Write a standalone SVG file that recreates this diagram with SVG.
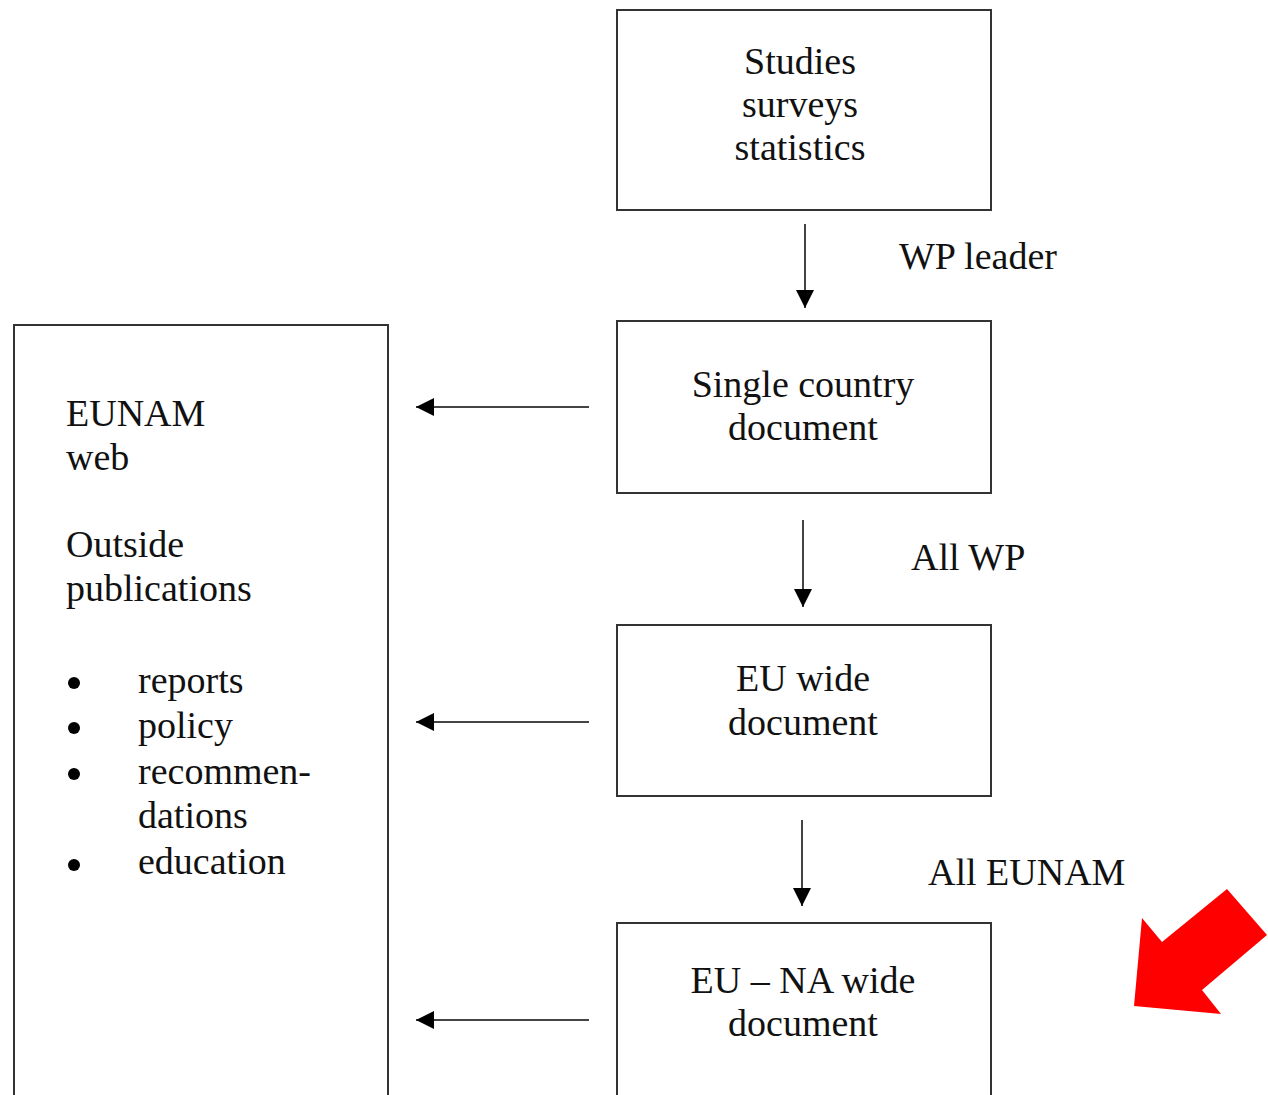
<svg xmlns="http://www.w3.org/2000/svg" width="1268" height="1095" viewBox="0 0 1268 1095">
<style>
.box{fill:#fff;stroke:#333;stroke-width:2}
.t{font-family:"Liberation Serif","Times New Roman",serif;font-size:38px;fill:#111}
.c{text-anchor:middle}
.ln{stroke:#444;stroke-width:2;fill:none}
</style>
<defs>
<marker id="ah2" viewBox="0 0 10 10" refX="10" refY="5" markerWidth="9" markerHeight="9" orient="auto">
<path d="M0,0 L10,5 L0,10 z" fill="#000"/>
</marker>
</defs>
<rect width="1268" height="1095" fill="#fff"/>
<g id="studies">
<rect class="box" x="617" y="10" width="374" height="200"/>
<text class="t c" x="800" y="74">Studies</text>
<text class="t c" x="800" y="117">surveys</text>
<text class="t c" x="800" y="160">statistics</text>
</g>
<g id="single">
<rect class="box" x="617" y="321" width="374" height="172"/>
<text class="t c" x="803" y="397">Single country</text>
<text class="t c" x="803" y="440">document</text>
</g>
<g id="euwide">
<rect class="box" x="617" y="625" width="374" height="171"/>
<text class="t c" x="803" y="691">EU wide</text>
<text class="t c" x="803" y="735">document</text>
</g>
<g id="eunawide">
<rect class="box" x="617" y="923" width="374" height="180"/>
<text class="t c" x="803" y="993">EU – NA wide</text>
<text class="t c" x="803" y="1036">document</text>
</g>
<g id="web">
<rect class="box" x="14" y="325" width="374" height="780"/>
<text class="t" x="66" y="426">EUNAM</text>
<text class="t" x="66" y="470">web</text>
<text class="t" x="66" y="557">Outside</text>
<text class="t" x="66" y="601">publications</text>
<circle cx="74" cy="683" r="6" fill="#000"/>
<circle cx="74" cy="728" r="6" fill="#000"/>
<circle cx="74" cy="774" r="6" fill="#000"/>
<circle cx="74" cy="865" r="6" fill="#000"/>
<text class="t" x="138" y="693">reports</text>
<text class="t" x="138" y="738">policy</text>
<text class="t" x="138" y="784">recommen-</text>
<text class="t" x="138" y="828">dations</text>
<text class="t" x="138" y="874">education</text>
</g>
<g id="connectors">
<line class="ln" x1="805" y1="224" x2="805" y2="308" marker-end="url(#ah2)"/>
<line class="ln" x1="803" y1="520" x2="803" y2="607" marker-end="url(#ah2)"/>
<line class="ln" x1="802" y1="820" x2="802" y2="906" marker-end="url(#ah2)"/>
<line class="ln" x1="589" y1="407" x2="416" y2="407" marker-end="url(#ah2)"/>
<line class="ln" x1="589" y1="722" x2="416" y2="722" marker-end="url(#ah2)"/>
<line class="ln" x1="589" y1="1020" x2="416" y2="1020" marker-end="url(#ah2)"/>
<text class="t" x="899" y="269">WP leader</text>
<text class="t" x="911" y="570">All WP</text>
<text class="t" x="928" y="885">All EUNAM</text>
</g>
<polygon id="red-arrow" points="1134,1006 1221,1014 1202,990 1267,935 1227,889 1162,942 1142,918" fill="#f00"/>
</svg>
